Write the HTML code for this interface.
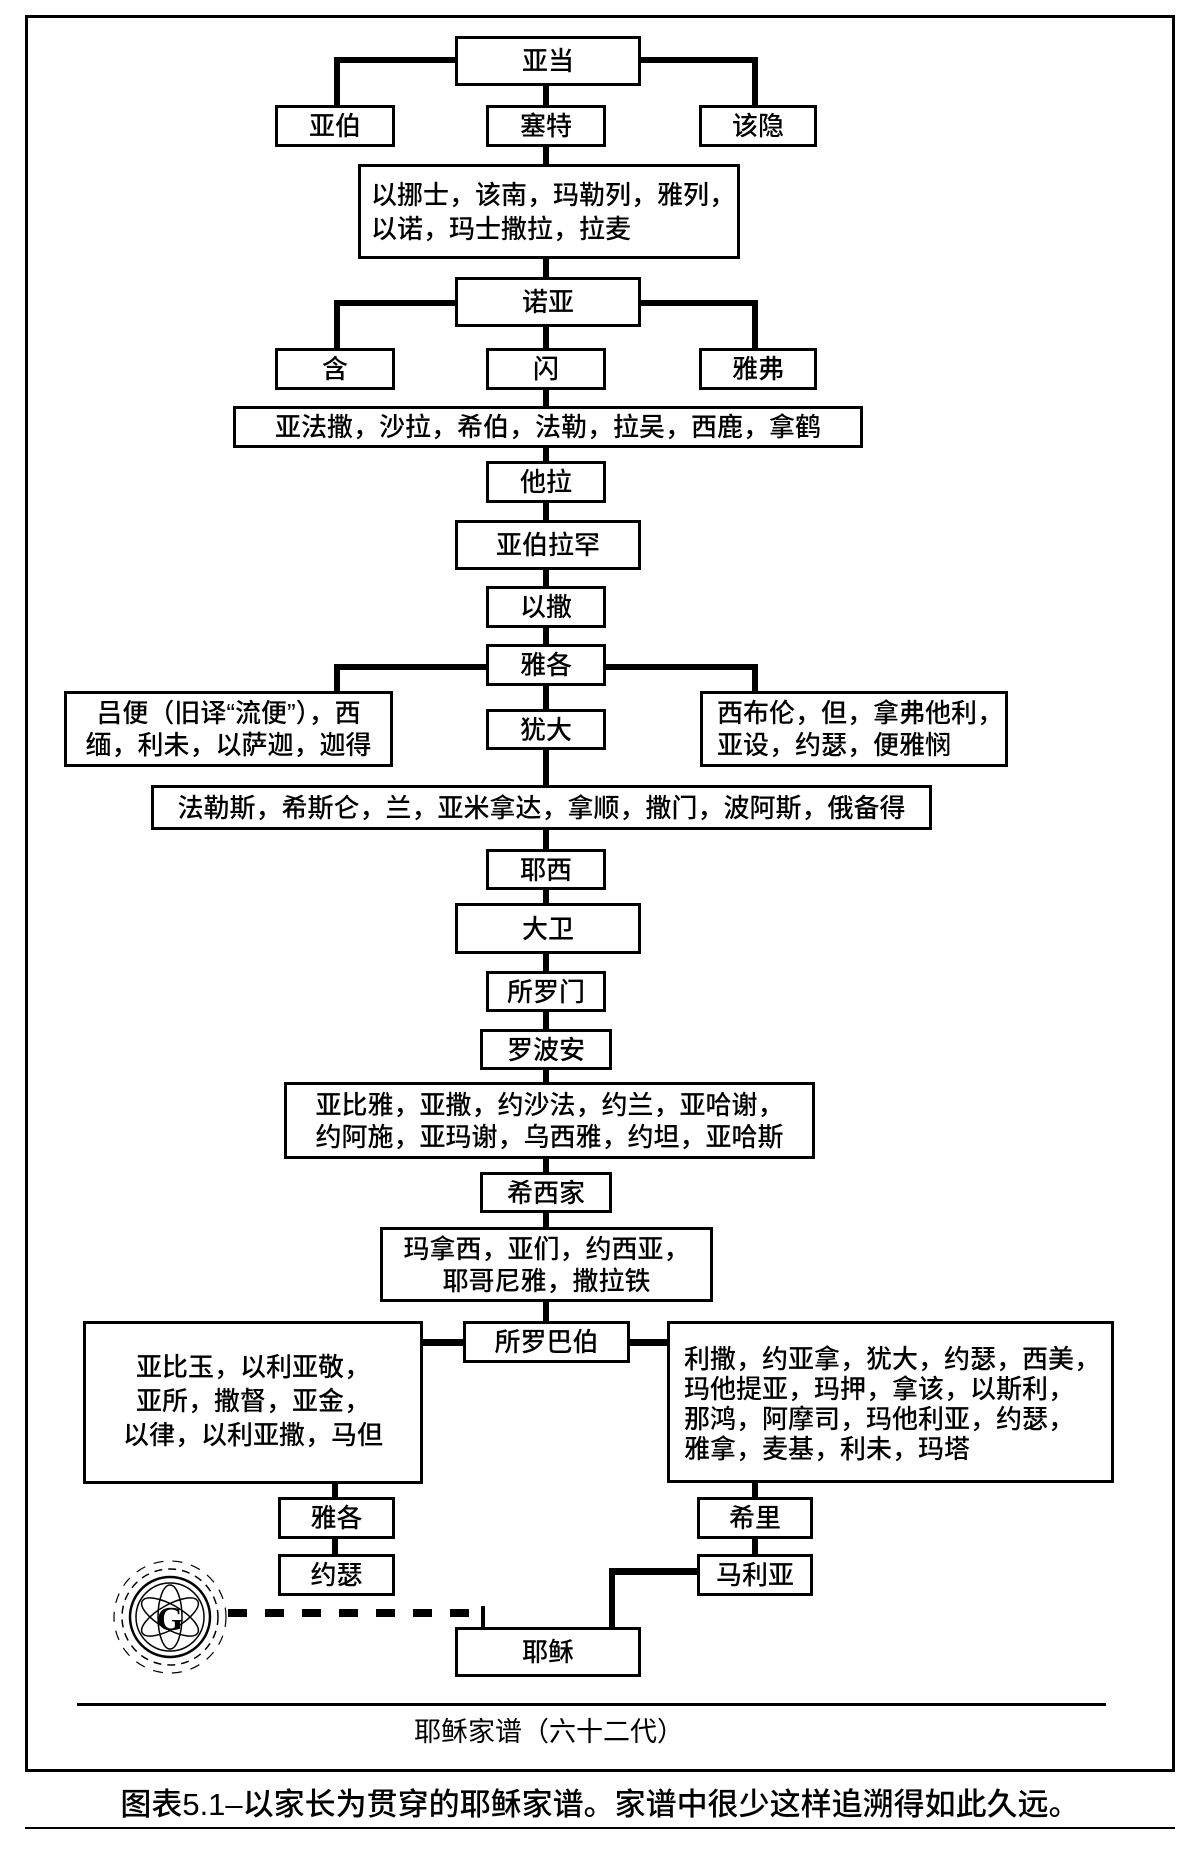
<!DOCTYPE html>
<html><head><meta charset="utf-8"><style>
html,body{margin:0;padding:0;background:#fff;}
body{width:1204px;height:1851px;position:relative;overflow:hidden;font-family:"Liberation Sans","Noto Sans CJK SC",sans-serif;color:#000;}
.b{position:absolute;box-sizing:border-box;border:3px solid #000;background:#fff;display:flex;align-items:center;justify-content:center;font-size:26px;font-weight:500;line-height:32px;text-align:center;white-space:nowrap;}
.l{position:absolute;background:#000;}
.t{position:absolute;white-space:nowrap;}
</style></head><body>
<div style="position:absolute;left:25px;top:15px;width:1150px;height:1757px;box-sizing:border-box;border:3px solid #000;"></div>

<div class="l" style="left:543px;top:60px;width:6px;height:1262px;"></div>
<div class="l" style="left:334px;top:57px;width:424px;height:6px;"></div>
<div class="l" style="left:334px;top:57px;width:6px;height:50px;"></div>
<div class="l" style="left:752px;top:57px;width:6px;height:50px;"></div>
<div class="l" style="left:334px;top:300px;width:424px;height:6px;"></div>
<div class="l" style="left:334px;top:300px;width:6px;height:50px;"></div>
<div class="l" style="left:752px;top:300px;width:6px;height:50px;"></div>
<div class="l" style="left:334px;top:664px;width:424px;height:6px;"></div>
<div class="l" style="left:334px;top:664px;width:6px;height:30px;"></div>
<div class="l" style="left:752px;top:664px;width:6px;height:30px;"></div>
<div class="l" style="left:420px;top:1339px;width:250px;height:7px;"></div>
<div class="l" style="left:332px;top:1482px;width:6px;height:75px;"></div>
<div class="l" style="left:752px;top:1482px;width:6px;height:75px;"></div>
<div class="l" style="left:609px;top:1568px;width:92px;height:7px;"></div>
<div class="l" style="left:609px;top:1568px;width:6px;height:62px;"></div>
<div class="l" style="left:481px;top:1606px;width:4px;height:22px;"></div>
<svg style="position:absolute;left:0;top:0" width="1204" height="1851">
<line x1="228" y1="1613" x2="484" y2="1613" stroke="#000" stroke-width="8" stroke-dasharray="19,18"/>
<g fill="none" stroke="#000">
<circle cx="170" cy="1617" r="40" stroke-width="2.5"/>
<circle cx="170" cy="1617" r="34" stroke-width="1.5"/>
<circle cx="170" cy="1617" r="48" stroke-width="1.5" stroke-dasharray="8,6"/>
<circle cx="170" cy="1617" r="56" stroke-width="1.2" stroke-dasharray="10,9"/>
<ellipse cx="170" cy="1617" rx="32" ry="12" stroke-width="1.5" transform="rotate(30 170 1617)"/>
<ellipse cx="170" cy="1617" rx="32" ry="12" stroke-width="1.5" transform="rotate(-30 170 1617)"/>
<ellipse cx="170" cy="1617" rx="32" ry="12" stroke-width="1.5" transform="rotate(90 170 1617)"/>
</g>
<text x="170" y="1630" font-family="Liberation Serif,serif" font-weight="bold" font-size="34" text-anchor="middle">G</text>
</svg>

<div class="b" style="left:455px;top:36px;width:186px;height:50px;">亚当</div>
<div class="b" style="left:275px;top:105px;width:120px;height:42px;">亚伯</div>
<div class="b" style="left:486px;top:105px;width:120px;height:42px;">塞特</div>
<div class="b" style="left:699px;top:105px;width:118px;height:42px;">该隐</div>
<div class="b" style="left:358px;top:164px;width:382px;height:95px;justify-content:flex-start;text-align:left;padding-left:10px;line-height:34px;">以挪士，该南，玛勒列，雅列，<br>以诺，玛士撒拉，拉麦</div>
<div class="b" style="left:455px;top:277px;width:186px;height:50px;">诺亚</div>
<div class="b" style="left:275px;top:348px;width:120px;height:42px;">含</div>
<div class="b" style="left:486px;top:348px;width:120px;height:42px;">闪</div>
<div class="b" style="left:699px;top:348px;width:118px;height:42px;">雅弗</div>
<div class="b" style="left:233px;top:406px;width:630px;height:42px;">亚法撒，沙拉，希伯，法勒，拉吴，西鹿，拿鹤</div>
<div class="b" style="left:486px;top:461px;width:120px;height:42px;">他拉</div>
<div class="b" style="left:455px;top:520px;width:186px;height:50px;">亚伯拉罕</div>
<div class="b" style="left:486px;top:586px;width:120px;height:42px;">以撒</div>
<div class="b" style="left:486px;top:644px;width:120px;height:42px;">雅各</div>
<div class="b" style="left:64px;top:691px;width:329px;height:76px;">吕便（旧译“流便”），西<br>缅，利未，以萨迦，迦得</div>
<div class="b" style="left:486px;top:709px;width:120px;height:41px;">犹大</div>
<div class="b" style="left:700px;top:691px;width:308px;height:76px;justify-content:flex-start;text-align:left;padding-left:14px;">西布伦，但，拿弗他利，<br>亚设，约瑟，便雅悯</div>
<div class="b" style="left:151px;top:785px;width:781px;height:45px;">法勒斯，希斯仑，兰，亚米拿达，拿顺，撒门，波阿斯，俄备得</div>
<div class="b" style="left:486px;top:849px;width:120px;height:41px;">耶西</div>
<div class="b" style="left:455px;top:903px;width:186px;height:51px;">大卫</div>
<div class="b" style="left:486px;top:971px;width:120px;height:41px;">所罗门</div>
<div class="b" style="left:480px;top:1029px;width:132px;height:41px;">罗波安</div>
<div class="b" style="left:284px;top:1082px;width:531px;height:77px;">亚比雅，亚撒，约沙法，约兰，亚哈谢，<br>约阿施，亚玛谢，乌西雅，约坦，亚哈斯</div>
<div class="b" style="left:480px;top:1172px;width:132px;height:41px;">希西家</div>
<div class="b" style="left:380px;top:1227px;width:333px;height:75px;">玛拿西，亚们，约西亚，<br>耶哥尼雅，撒拉铁</div>
<div class="b" style="left:463px;top:1321px;width:167px;height:42px;">所罗巴伯</div>
<div class="b" style="left:83px;top:1321px;width:340px;height:163px;align-items:flex-start;padding-top:26px;line-height:34px;">亚比玉，以利亚敬，<br>亚所，撒督，亚金，<br>以律，以利亚撒，马但</div>
<div class="b" style="left:667px;top:1321px;width:447px;height:162px;justify-content:flex-start;align-items:flex-start;text-align:left;padding-left:14px;padding-top:20px;line-height:30px;">利撒，约亚拿，犹大，约瑟，西美，<br>玛他提亚，玛押，拿该，以斯利，<br>那鸿，阿摩司，玛他利亚，约瑟，<br>雅拿，麦基，利未，玛塔</div>
<div class="b" style="left:278px;top:1497px;width:117px;height:42px;">雅各</div>
<div class="b" style="left:278px;top:1554px;width:117px;height:42px;">约瑟</div>
<div class="b" style="left:697px;top:1497px;width:116px;height:42px;">希里</div>
<div class="b" style="left:697px;top:1554px;width:116px;height:42px;">马利亚</div>
<div class="b" style="left:455px;top:1627px;width:186px;height:50px;">耶稣</div>

<div class="l" style="left:77px;top:1703px;width:1029px;height:3px;"></div>
<div class="t" style="left:0;width:1098px;top:1714px;text-align:center;font-size:27px;line-height:36px;">耶稣家谱（六十二代）</div>
<div class="t" style="left:25px;width:1150px;top:1784px;text-align:center;font-size:31px;font-weight:500;line-height:42px;">图表5.1–以家长为贯穿的耶稣家谱。家谱中很少这样追溯得如此久远。</div>
<div class="l" style="left:25px;top:1827px;width:1150px;height:2px;"></div>
</body></html>
